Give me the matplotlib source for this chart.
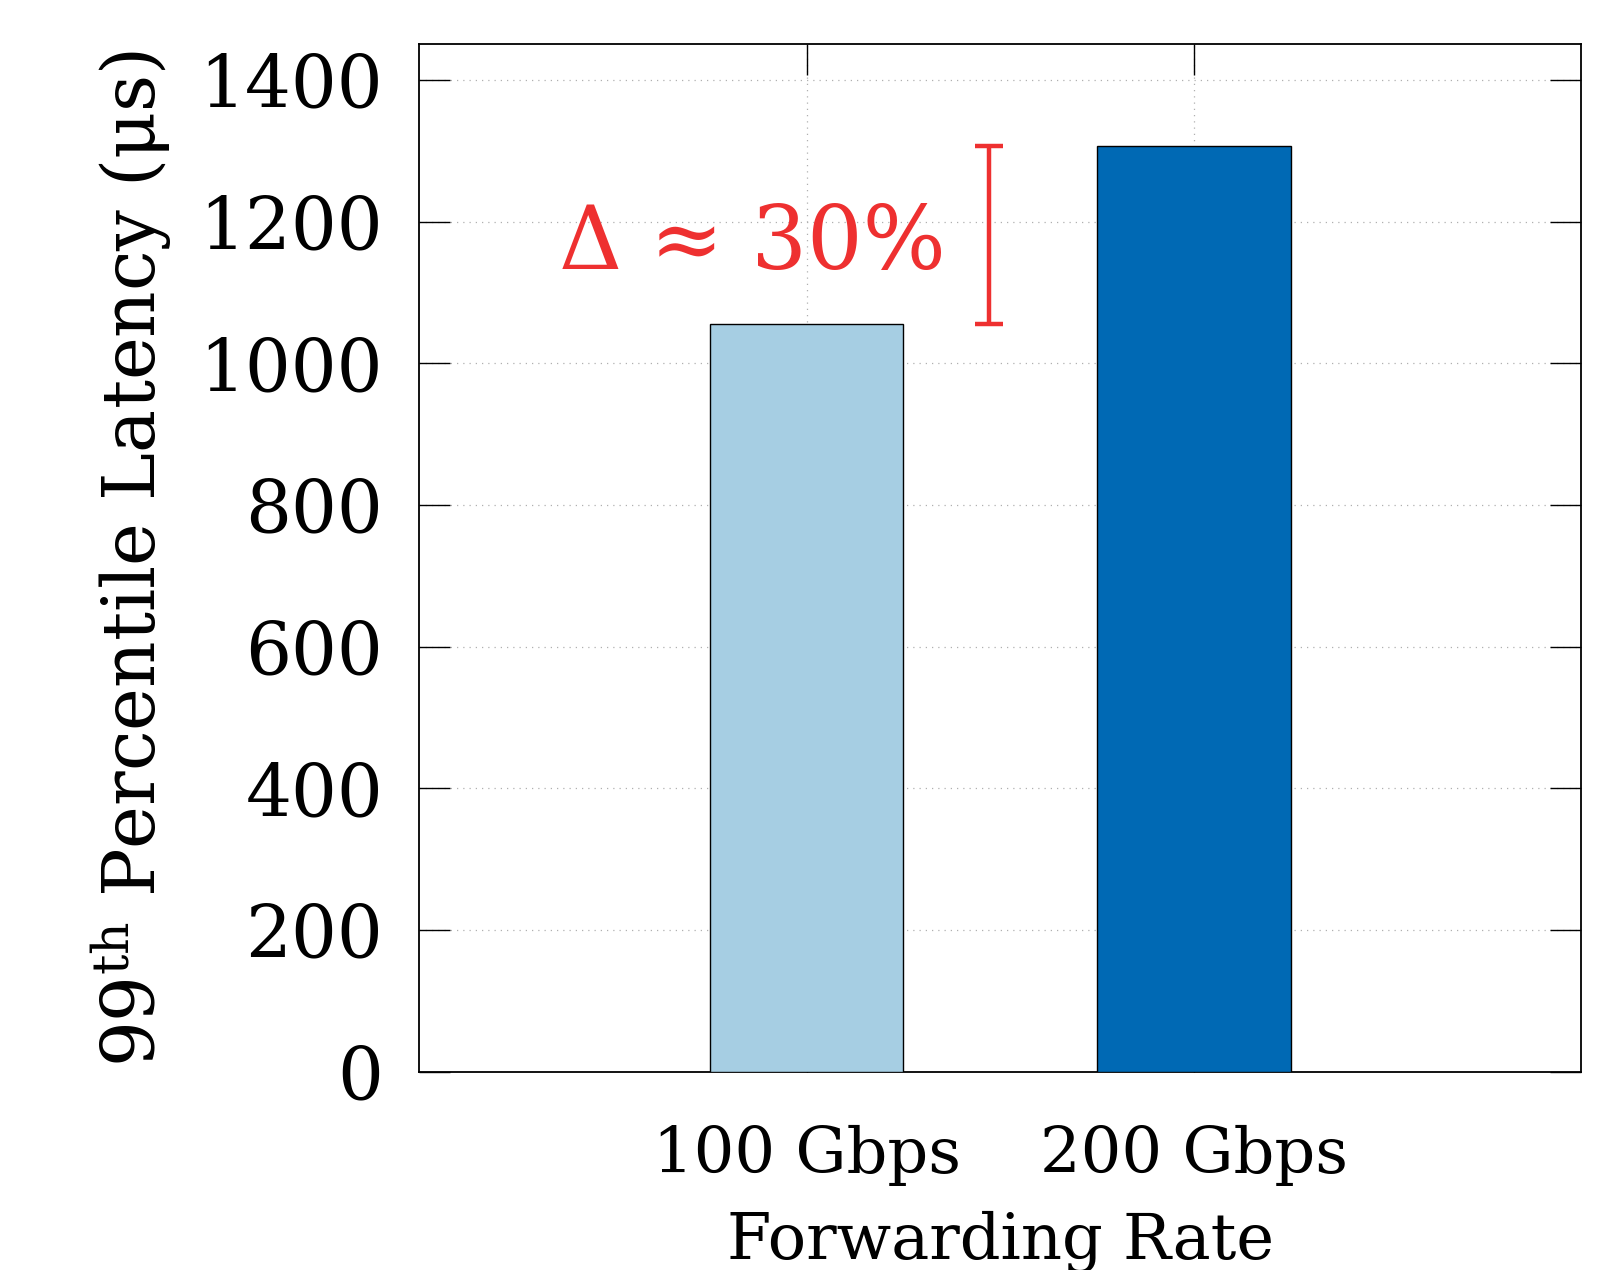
import matplotlib
matplotlib.use("Agg")
import matplotlib.pyplot as plt
import numpy as np

# data
categories = ["100 Gbps", "200 Gbps"]
latency = [1055, 1306]
bar_colors = ["#a6cee3", "#0069b4"]
yticks = [0, 200, 400, 600, 800, 1000, 1200, 1400]
delta_label = "Δ ≈ 30%"

plt.rcParams['font.family'] = ['DejaVu Serif']
plt.rcParams['mathtext.fontset'] = 'dejavuserif'

fig = plt.figure(figsize=(16.12, 12.7), dpi=100)
ax = fig.add_axes([0.260, 0.156, 0.721, 0.809])

x = np.arange(len(categories))
ax.bar(x, latency, width=0.5, color=bar_colors, edgecolor="black", linewidth=1.0, zorder=3)

# delta marker between the two bar heights
red = "#ee3030"
mid = (latency[0] + latency[1]) / 2
half = (latency[1] - latency[0]) / 2
ax.errorbar(0.47, mid, yerr=half, fmt="none", ecolor=red, elinewidth=3.2,
            capsize=10, capthick=3.2, zorder=4)
ax.text(0.36, 1133, delta_label, color=red, fontsize=63,
        ha="right", va="baseline", zorder=5)

ax.set_xlim(-1, 2)
ax.set_ylim(0, 1450)
ax.set_xticks(x)
ax.set_xticklabels(categories)
ax.set_yticks(yticks)

ax.tick_params(axis="both", which="major", direction="in", length=22, width=1.0,
               top=True, right=True, labelsize=46)
ax.tick_params(axis="x", pad=38)
ax.tick_params(axis="y", pad=26, labelsize=52)
ax.grid(True, linestyle=(0, (1, 4)), color="#b0b0b0", linewidth=0.9, zorder=0)
ax.set_axisbelow(True)
for s in ax.spines.values():
    s.set_linewidth(1.3)

ax.set_xlabel("Forwarding Rate", fontsize=46, labelpad=18)
ax.set_ylabel(r"99$^{\mathrm{th}}$ Percentile Latency (μs)", fontsize=52, labelpad=18)

fig.savefig("out.png", dpi=100)
